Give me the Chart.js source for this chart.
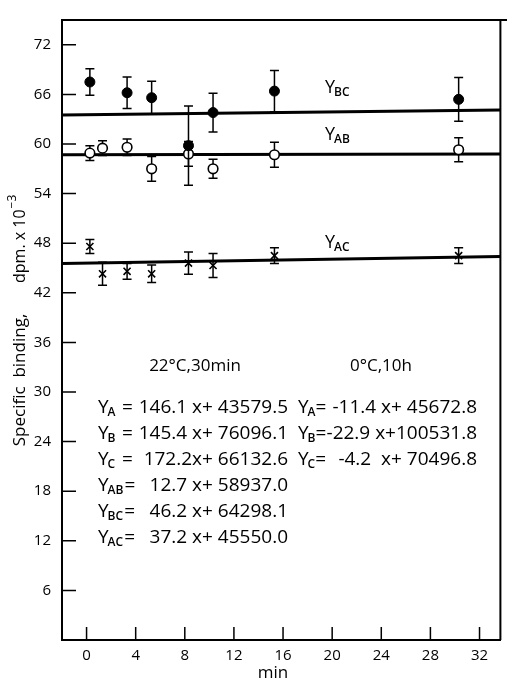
<!DOCTYPE html>
<html>
<head>
<meta charset="utf-8">
<script src="https://cdn.jsdelivr.net/npm/chart.js@4.4.0/dist/chart.umd.min.js"></script>
<style>
  html, body { margin: 0; padding: 0; background: #fff; }
  #wrap { width: 507px; height: 682px; }
</style>
</head>
<body>
<div id="wrap"><canvas id="chart"></canvas></div>
<script>
// time (min), specific binding (dpm x 10^-3) and error bars
const timesBC = [0.27, 3.3, 5.3, 8.3, 10.3, 15.3, 30.3];
const valuesBC = [67.5, 66.2, 65.6, 59.8, 63.8, 66.4, 65.4];
const errorsBC = [1.6, 1.9, 2.0, 4.8, 2.35, 2.5, 2.65];

const timesAB = [0.27, 1.3, 3.3, 5.3, 8.3, 10.3, 15.3, 30.3];
const valuesAB = [58.9, 59.5, 59.6, 57.0, 58.8, 57.0, 58.7, 59.3];
const errorsAB = [0.9, 0.9, 1.0, 1.5, 1.5, 1.15, 1.5, 1.45];

const timesAC = [0.27, 1.3, 3.3, 5.3, 8.3, 10.3, 15.3, 30.3];
const valuesAC = [47.6, 44.3, 44.6, 44.3, 45.6, 45.3, 46.5, 46.5];
const errorsAC = [0.85, 1.4, 0.95, 1.05, 1.35, 1.45, 0.95, 0.95];

// fitted lines, end points
const fitX = [-2, 33.7];
const fitBC = [63.5, 64.1];
const fitAB = [58.7, 58.8];
const fitAC = [45.55, 46.4];

const xTicks = [0, 4, 8, 12, 16, 20, 24, 28, 32];
const yTicks = [6, 12, 18, 24, 30, 36, 42, 48, 54, 60, 66, 72];

const lineLabels = ['BC', 'AB', 'AC'];
const headers = ['22°C,30min', '0°C,10h'];
const eqLeftSubs = ['A', 'B', 'C', 'AB', 'BC', 'AC'];
const eqLeft = ['146.1 x+ 43579.5', '145.4 x+ 76096.1', '172.2x+ 66132.6', '12.7 x+ 58937.0', '46.2 x+ 64298.1', '37.2 x+ 45550.0'];
const eqRightSubs = ['A', 'B', 'C'];
const eqRight = ['-11.4 x+ 45672.8', '-22.9 x+100531.8', '-4.2  x+ 70496.8'];

const FONT = 'Open Sans';

function pts(xs, ys) { return xs.map((x, i) => ({ x: x, y: ys[i] })); }

function drawY(ctx, x, y, sub, size, subSize) {
  ctx.textAlign = 'left';
  ctx.textBaseline = 'alphabetic';
  ctx.font = size + 'px "' + FONT + '"';
  ctx.fillText('Y', x, y);
  const w = ctx.measureText('Y').width;
  ctx.font = '600 ' + subSize + 'px "' + FONT + '"';
  ctx.fillText(sub, x + w - 1, y + 3);
  return x + w - 1 + ctx.measureText(sub).width;
}

// error bars drawn just before each point dataset
const errorBars = {
  id: 'errorBars',
  beforeDatasetDraw(chart, args) {
    const ds = chart.data.datasets[args.index];
    if (!ds.errors) return;
    const ctx = chart.ctx, xs = chart.scales.x, ys = chart.scales.y;
    ctx.save();
    ctx.strokeStyle = '#000';
    ctx.lineWidth = 1.5;
    ds.data.forEach((p, i) => {
      const px = xs.getPixelForValue(p.x);
      const top = ys.getPixelForValue(p.y + ds.errors[i]);
      const bot = ys.getPixelForValue(p.y - ds.errors[i]);
      ctx.beginPath();
      ctx.moveTo(px, top); ctx.lineTo(px, bot);
      ctx.moveTo(px - 4.5, top); ctx.lineTo(px + 4.5, top);
      ctx.moveTo(px - 4.5, bot); ctx.lineTo(px + 4.5, bot);
      ctx.stroke();
    });
    ctx.restore();
  }
};

const decor = {
  id: 'decor',
  afterDraw(chart) {
    const ctx = chart.ctx, a = chart.chartArea;
    const xs = chart.scales.x, ys = chart.scales.y;
    ctx.save();
    ctx.strokeStyle = '#000';
    ctx.fillStyle = '#000';
    // frame top and right
    ctx.lineWidth = 2;
    ctx.beginPath();
    ctx.moveTo(a.left, a.top); ctx.lineTo(507, a.top);
    ctx.moveTo(a.right, a.top); ctx.lineTo(a.right, a.bottom);
    ctx.stroke();
    // inward tick marks
    ctx.lineWidth = 1.5;
    ctx.beginPath();
    yTicks.forEach(v => {
      const py = ys.getPixelForValue(v);
      ctx.moveTo(a.left, py); ctx.lineTo(a.left + 14, py);
    });
    xTicks.forEach(v => {
      const px = xs.getPixelForValue(v);
      ctx.moveTo(px, a.bottom); ctx.lineTo(px, a.bottom - 13);
    });
    ctx.stroke();

    // line labels
    const labelY = [93, 140, 248];
    lineLabels.forEach((s, i) => drawY(ctx, 325, labelY[i], s, 18, 12));

    // headers
    ctx.font = '17px "' + FONT + '"';
    ctx.textAlign = 'center';
    ctx.textBaseline = 'alphabetic';
    ctx.fillText(headers[0], 195, 371);
    ctx.fillText(headers[1], 381, 371);

    // equations
    const rowY = [413, 439, 465, 491, 517, 543];
    eqLeft.forEach((s, i) => {
      const end = drawY(ctx, 98, rowY[i], eqLeftSubs[i], 19, 12);
      ctx.font = '19px "' + FONT + '"';
      ctx.textAlign = 'left';
      ctx.fillText('=', i < 3 ? 122 : end + 1, rowY[i]);
      ctx.textAlign = 'right';
      ctx.fillText(s, 288, rowY[i]);
    });
    eqRight.forEach((s, i) => {
      const end = drawY(ctx, 298, rowY[i], eqRightSubs[i], 19, 12);
      ctx.font = '19px "' + FONT + '"';
      ctx.textAlign = 'left';
      ctx.fillText('=', end, rowY[i]);
      ctx.textAlign = 'right';
      ctx.fillText(s, 477, rowY[i]);
    });

    // x axis title
    ctx.font = '17px "' + FONT + '"';
    ctx.textAlign = 'center';
    ctx.textBaseline = 'middle';
    ctx.fillText('min', 273, 673);

    // y axis title
    ctx.save();
    ctx.translate(20, 380);
    ctx.rotate(-Math.PI / 2);
    ctx.font = '17px "' + FONT + '"';
    ctx.textAlign = 'center';
    ctx.textBaseline = 'middle';
    ctx.fillText('Specific  binding,', 0, 0);
    ctx.restore();
    ctx.save();
    ctx.translate(20, 283);
    ctx.rotate(-Math.PI / 2);
    ctx.font = '16px "' + FONT + '"';
    ctx.textAlign = 'left';
    ctx.textBaseline = 'middle';
    ctx.fillText('dpm. x 10', 0, 0);
    const w = ctx.measureText('dpm. x 10').width;
    ctx.font = '12px "' + FONT + '"';
    ctx.fillText('\u22123', w + 1, -7);
    ctx.restore();

    ctx.restore();
  }
};

new Chart(document.getElementById('chart'), {
  type: 'scatter',
  data: {
    datasets: [
      { type: 'line', data: pts(fitX, fitBC), borderColor: '#000', borderWidth: 3, pointRadius: 0, order: 1 },
      { type: 'line', data: pts(fitX, fitAB), borderColor: '#000', borderWidth: 3, pointRadius: 0, order: 1 },
      { type: 'line', data: pts(fitX, fitAC), borderColor: '#000', borderWidth: 3, pointRadius: 0, order: 1 },
      { data: pts(timesBC, valuesBC), errors: errorsBC, pointStyle: 'circle', pointRadius: 5,
        backgroundColor: '#000', borderColor: '#000', borderWidth: 1, order: 0 },
      { data: pts(timesAB, valuesAB), errors: errorsAB, pointStyle: 'circle', pointRadius: 4.8,
        backgroundColor: '#fff', borderColor: '#000', borderWidth: 1.6, order: 0 },
      { data: pts(timesAC, valuesAC), errors: errorsAC, pointStyle: 'crossRot', pointRadius: 5,
        backgroundColor: '#000', borderColor: '#000', borderWidth: 1.6, order: 0 }
    ]
  },
  options: {
    responsive: true,
    maintainAspectRatio: false,
    animation: false,
    devicePixelRatio: 1,
    layout: { padding: { top: 8, right: 2, left: 0, bottom: 0 } },
    plugins: { legend: { display: false }, tooltip: { enabled: false } },
    scales: {
      x: {
        type: 'linear', min: -2, max: 33.7,
        afterBuildTicks: s => { s.ticks = xTicks.map(v => ({ value: v })); },
        afterFit: s => { s.height = 42; },
        grid: { display: false, drawTicks: false },
        border: { display: true, color: '#000', width: 2 },
        ticks: { color: '#000', font: { family: FONT, size: 15 }, padding: 7, maxRotation: 0, autoSkip: false }
      },
      y: {
        type: 'linear', min: 0, max: 75,
        afterBuildTicks: s => { s.ticks = yTicks.map(v => ({ value: v })); },
        afterFit: s => { s.width = 62; },
        grid: { display: false, drawTicks: false },
        border: { display: true, color: '#000', width: 2 },
        ticks: { color: '#000', font: { family: FONT, size: 15 }, padding: 11, autoSkip: false }
      }
    }
  },
  plugins: [errorBars, decor]
});
</script>
</body>
</html>
